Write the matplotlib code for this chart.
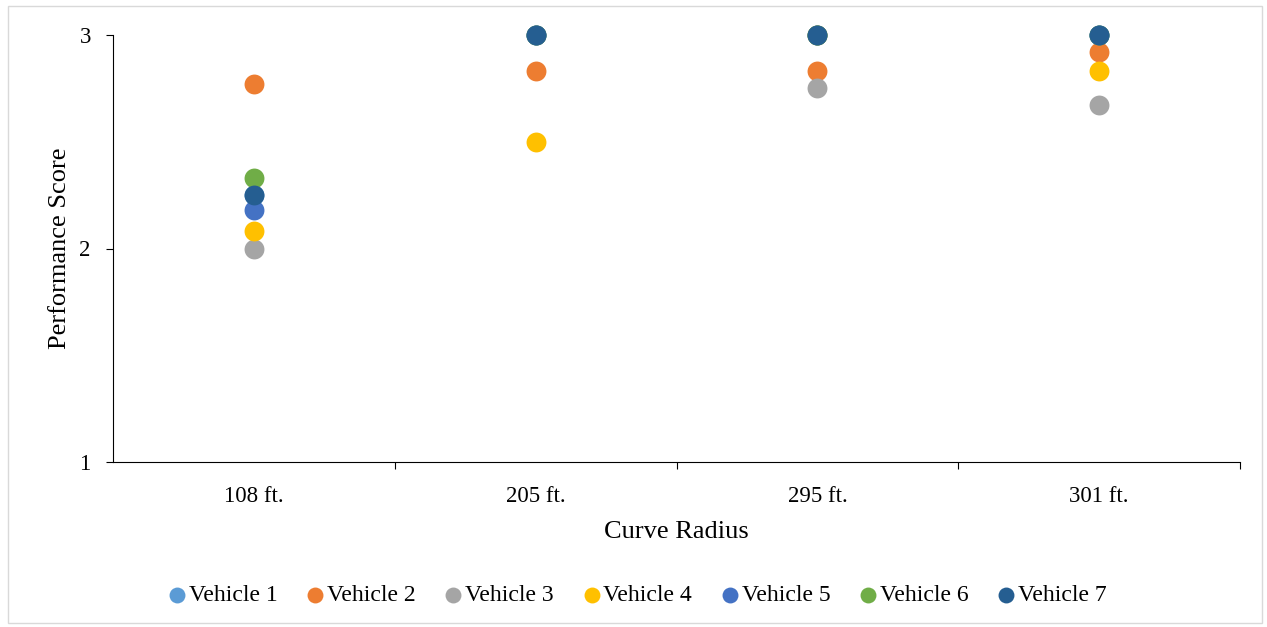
import matplotlib
matplotlib.use("Agg")
import matplotlib.pyplot as plt
from matplotlib.patches import Rectangle

categories = ["108 ft.", "205 ft.", "295 ft.", "301 ft."]
series_names = ["Vehicle 1", "Vehicle 2", "Vehicle 3", "Vehicle 4", "Vehicle 5", "Vehicle 6", "Vehicle 7"]
v1 = [2.25, 3.0, 3.0, 3.0]
v2 = [2.77, 2.83, 2.83, 2.92]
v3 = [2.0, 3.0, 2.75, 2.67]
v4 = [2.08, 2.5, 3.0, 2.83]
v5 = [2.18, 3.0, 3.0, 3.0]
v6 = [2.33, 3.0, 3.0, 3.0]
v7 = [2.25, 3.0, 3.0, 3.0]
series = [v1, v2, v3, v4, v5, v6, v7]
colors = ["#5B9BD5", "#ED7D31", "#A5A5A5", "#FFC000", "#4472C4", "#70AD47", "#255E91"]

plt.rcParams['font.family'] = ['Liberation Serif', 'DejaVu Serif']

W, H = 1267, 627
fig = plt.figure(figsize=(W/100, H/100), dpi=100)
ax = fig.add_axes([113/W, 1-462/H, (1240-113)/W, (462-35)/H])

xs = list(range(len(categories)))
for name, vals, c in zip(series_names, series, colors):
    ax.scatter(xs, vals, s=205, color=c, label=name, zorder=3, linewidths=0, clip_on=False)

ax.set_xlim(-0.5, len(categories)-0.5)
ax.set_ylim(1, 3)
ax.set_yticks([1, 2, 3])
ax.set_xticks(xs)
ax.set_xticklabels(categories)
ax.set_xticks([i + 0.5 for i in xs], minor=True)
ax.tick_params(axis='x', which='major', length=0, pad=17, labelsize=16.5)
ax.tick_params(axis='x', which='minor', length=5, direction='out', width=0.8)
ax.tick_params(axis='y', which='major', length=5, direction='out', labelsize=16.5, pad=11, width=0.8)
for s in ['top', 'right']:
    ax.spines[s].set_visible(False)
for s in ['left', 'bottom']:
    ax.spines[s].set_linewidth(0.8)
ax.set_xlabel("Curve Radius", fontsize=19, labelpad=10)
ax.set_ylabel("Performance Score", fontsize=19, labelpad=6)

leg = fig.legend(loc='center', bbox_to_anchor=(0.5, 1-595/H), ncol=7, frameon=False,
                 fontsize=17, handletextpad=-0.2, columnspacing=0.9, markerscale=0.8,
                 handlelength=1.4)

fig.patches.append(Rectangle((8/W, 1-623/H), (1262-8)/W, (623-6)/H, transform=fig.transFigure,
                             fill=False, edgecolor='#D9D9D9', linewidth=1))
fig.savefig("out.png", dpi=100)
